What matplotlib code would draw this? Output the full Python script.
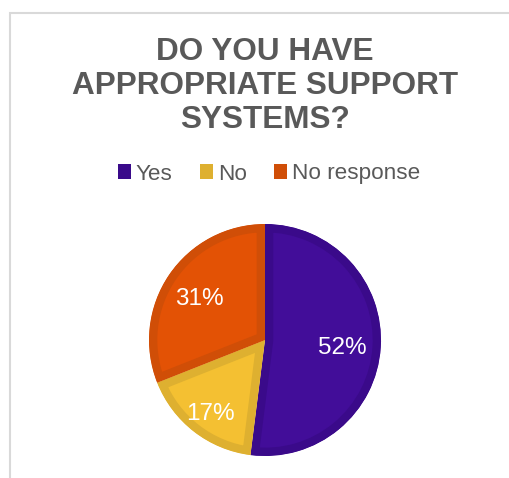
import numpy as np
import matplotlib.pyplot as plt
from matplotlib.patches import Rectangle

plt.rcParams['font.family'] = ['Liberation Sans', 'DejaVu Sans']

# survey answers
labels = ['Yes', 'No', 'No response']
values = [52, 17, 31]

face_colors = ['#420d99', '#f4c032', '#e35205']
edge_colors = ['#3a0a8a', '#deb030', '#d04e07']
label_dist = [0.67, 0.77, 0.68]

W, H = 510, 478
fig = plt.figure(figsize=(W / 100, H / 100), dpi=100)
ax = fig.add_axes([0, 0, 1, 1])

# chart area border (only left/top visible)
ax.add_patch(Rectangle((10.5, -20), W + 40, H - 12.5 + 20, fill=False,
                       edgecolor='#d9d9d9', linewidth=1.5))

cx, cy, r = 265, H - 340, 116
wedges, _ = ax.pie(values, colors=face_colors, startangle=90, counterclock=False,
                   center=(cx, cy), radius=r, frame=True,
                   wedgeprops=dict(linewidth=0))
ax.set_xlim(0, W)
ax.set_ylim(0, H)
ax.set_aspect('equal')
ax.axis('off')

# darker inner border on each slice (stroke clipped to the slice itself)
for w, ec in zip(wedges, edge_colors):
    w.set_edgecolor(ec)
    w.set_linewidth(12)
    w.set_clip_on(True)
    w.set_clip_path(w)

for w, v, d in zip(wedges, values, label_dist):
    ang = np.deg2rad((w.theta1 + w.theta2) / 2)
    ax.text(cx + d * r * np.cos(ang), cy + d * r * np.sin(ang) - 3, f'{v}%',
            color='white', fontsize=17.5, ha='center', va='center')

fig.text(265 / W, 1 - 86 / H,
         'DO YOU HAVE\nAPPROPRIATE SUPPORT\nSYSTEMS?',
         ha='center', va='center', fontsize=22.7, fontweight='bold',
         color='#595959', linespacing=1.16)

handles = [Rectangle((0, 0), 1, 1, facecolor=c) for c in edge_colors]
fig.legend(handles, labels, loc='center', bbox_to_anchor=(269 / W, 1 - 174 / H),
           ncol=3, frameon=False, fontsize=16.2, handlelength=0.6, handleheight=0.6,
           handletextpad=0.2, columnspacing=1.2, labelcolor='#595959')

fig.savefig('out.png', dpi=100)
